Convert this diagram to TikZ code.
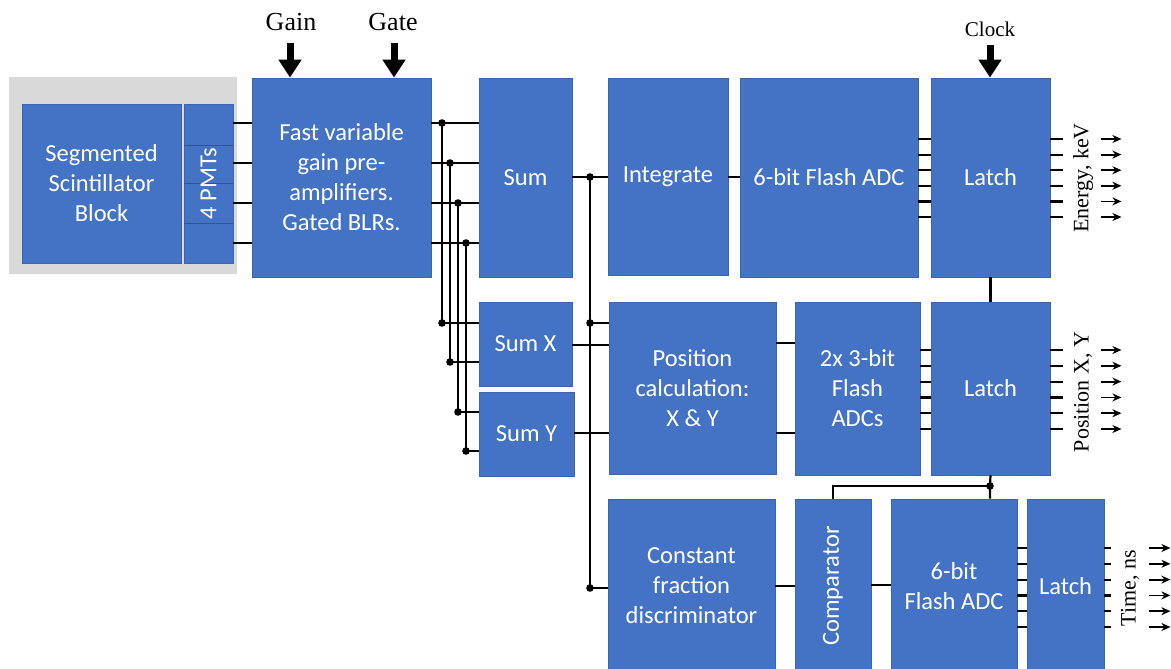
\documentclass[tikz,border=0pt]{standalone}
\usepackage{fontspec}
\setmainfont{Liberation Serif}
\newfontfamily\calfont{Carlito}
\usetikzlibrary{arrows.meta}
\definecolor{boxc}{HTML}{4472C4}
\definecolor{bordc}{HTML}{3A65B0}
\definecolor{divc}{HTML}{2F5597}
\definecolor{bgc}{HTML}{D9D9D9}
\newcommand\blk[6]{\node[box, minimum width={(#4-#2)*1pt}, minimum height={(#5-#3)*1pt}] (#1) at ({(#2+#4)/2},{(#3+#5)/2}) {#6};}
\begin{document}
\begin{tikzpicture}[x=1pt,y=-1pt,
  box/.style={draw=bordc, line width=0.8pt, fill=boxc, inner sep=0pt, align=center, text=white, font=\calfont\fontsize{24.5}{30}\selectfont},
  wire/.style={line width=2.2pt, black},
  jdot/.style={fill=black},
  outarrow/.style={line width=1.8pt, -{Stealth[length=9pt,width=8pt]}},
  bigarrow/.style={line width=7pt, -{Triangle[length=18pt,width=22pt]}},
  lbl/.style={inner sep=0pt, font=\fontsize{26}{30}\selectfont},
  sidelbl/.style={inner sep=0pt, rotate=90, font=\fontsize{22}{26}\selectfont}
]
\useasboundingbox (0,0) rectangle (1171,669);
% assembly background
\node[fill=bgc, inner sep=0pt, minimum width=228pt, minimum height=197pt] (assembly) at (123,175.5) {};
\blk{scint}{22}{104}{181}{263}{Segmented\\Scintillator\\Block}
\blk{pmt}{184}{104}{233}{263}{}
\foreach \y in {145,183,223} \draw[divc, line width=0.8pt] (pmt.west |- 0,\y) -- (pmt.east |- 0,\y);
\node[text=white, font=\calfont\fontsize{24.5}{30}\selectfont, inner sep=0pt] (pmtlbl) at (pmt.center) {\rotatebox{90}{4 PMTs}};
\blk{pre}{252}{78}{431}{277}{Fast variable\\gain pre-\\amplifiers.\\Gated BLRs.}
\blk{sum}{479}{78}{572}{277}{Sum}
\blk{sumx}{479}{302}{572}{386}{Sum X}
\blk{sumy}{479}{392}{574}{476}{Sum Y}
\blk{int}{608}{78}{728}{275}{Integrate}
\blk{adca}{740}{78}{918}{277}{6-bit Flash ADC}
\blk{latcha}{931}{78}{1050}{277}{Latch}
\blk{pos}{609}{302}{776}{474}{Position\\calculation:\\X \& Y}
\blk{adcb}{795}{302}{920}{475}{2x 3-bit\\Flash\\ADCs}
\blk{latchb}{931}{302}{1050}{475}{Latch}
\blk{cfd}{608}{499}{775}{673}{Constant\\fraction\\discriminator}
\blk{comp}{795}{499}{871}{673}{\rotatebox{90}{Comparator}}
\blk{adcc}{891}{499}{1017}{673}{6-bit\\Flash ADC}
\blk{latchc}{1027}{499}{1104}{673}{Latch}
% labels
\node[lbl] (gain) at (291,22) {Gain};
\node[lbl] (gate) at (393,22) {Gate};
\node[lbl, font=\fontsize{21}{24}\selectfont] (clock) at (990,29) {Clock};
\coordinate (gainA) at (290,43);
\coordinate (gateA) at (394,43);
\coordinate (clockA) at (990,45);
\draw[bigarrow] (gainA) -- (gainA |- pre.north);
\draw[bigarrow] (gateA) -- (gateA |- pre.north);
\draw[bigarrow] (clockA) -- (clockA |- latcha.north);
% PMT -> preamp
\foreach \y in {123,163,203,243} \draw[wire] (pmt.east |- 0,\y) -- (pre.west |- 0,\y);
% preamp -> sum
\foreach \y in {123,163,203,243} \draw[wire] (pre.east |- 0,\y) -- (sum.west |- 0,\y);
\coordinate (ja) at (442,123);
\coordinate (jb) at (450,163);
\coordinate (jc) at (458,203);
\coordinate (jd) at (466,243);
\draw[wire] (ja) |- (sumx.west |- 0,323);
\draw[wire] (jb) |- (sumx.west |- 0,362);
\draw[wire] (jc) |- (sumy.west |- 0,412);
\draw[wire] (jd) |- (sumy.west |- 0,451);
\foreach \p in {ja,jb,jc,jd} \fill[jdot] (\p) circle (3.8);
\foreach \x/\y in {442/323,450/362,458/412,466/451} \fill[jdot] (\x,\y) circle (3.8);
% sum -> integrate, bus
\coordinate (ka) at (590,177);
\coordinate (kb) at (590,323);
\coordinate (kc) at (590,588);
\draw[wire] (sum.east |- ka) -- (int.west |- ka);
\draw[wire] (ka) -- (kc);
\draw[wire] (kb) -- (pos.west |- kb);
\draw[wire] (kc) -- (cfd.west |- kc);
\foreach \p in {ka,kb,kc} \fill[jdot] (\p) circle (3.8);
\draw[wire] (sumx.east |- 0,345) -- (pos.west |- 0,345);
\draw[wire] (sumy.east |- 0,433) -- (pos.west |- 0,433);
% energy chain
\draw[wire] (int.east |- 0,177) -- (adca.west |- 0,177);
\foreach \y in {139,154.6,170.2,185.8,201.4,217} {
  \draw[wire] (adca.east |- 0,\y) -- (latcha.west |- 0,\y);
  \draw[wire] (latcha.east |- 0,\y) -- ++(13,0);
  \draw[outarrow] (latcha.east |- 0,\y) ++(51,0) -- ++(20,0);
}
\node[sidelbl] (elbl) at (1083,178) {Energy, keV};
% position chain
\draw[wire] (pos.east |- 0,343) -- (adcb.west |- 0,343);
\draw[wire] (pos.east |- 0,433) -- (adcb.west |- 0,433);
\foreach \y in {350,365.8,381.6,397.4,413.2,429} {
  \draw[wire] (adcb.east |- 0,\y) -- (latchb.west |- 0,\y);
  \draw[wire] (latchb.east |- 0,\y) -- ++(13,0);
  \draw[outarrow] (latchb.east |- 0,\y) ++(51,0) -- ++(20,0);
}
\node[sidelbl] (plbl) at (1083,392) {Position X, Y};
\draw[wire] (latcha.south) -- (latchb.north);
% time chain
\coordinate (ma) at (990,486);
\draw[wire] (latchb.south) -- (ma) -- (ma |- adcc.north);
\draw[wire] (ma) -| (comp.north);
\fill[jdot] (ma) circle (3.8);
\draw[wire] (cfd.east |- 0,586) -- (comp.west |- 0,586);
\draw[wire] (comp.east |- 0,585) -- (adcc.west |- 0,585);
\foreach \y in {548,563.8,579.6,595.4,611.2,627} {
  \draw[wire] (adcc.east |- 0,\y) -- (latchc.west |- 0,\y);
  \draw[wire] (latchc.east |- 0,\y) -- ++(7,0);
  \draw[outarrow] (latchc.east |- 0,\y) ++(45,0) -- ++(21,0);
}
\node[sidelbl] (tlbl) at (1130,588) {Time, ns};
\end{tikzpicture}
\end{document}
